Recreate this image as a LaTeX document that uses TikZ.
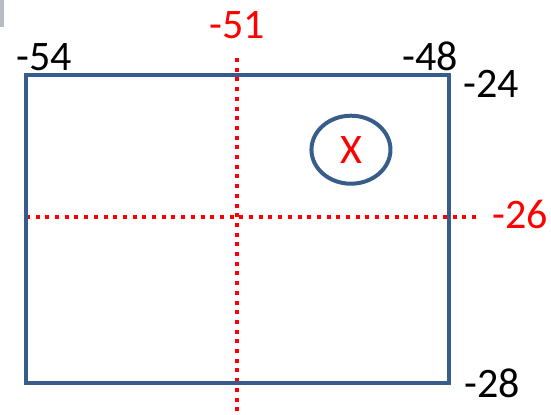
\documentclass[tikz,border=0pt]{standalone}
\usepackage{fontspec}
\setmainfont{Carlito}
\usetikzlibrary{shapes.geometric}
\definecolor{boxblue}{HTML}{385D8A}
\definecolor{tabgray}{RGB}{185,188,194}

\begin{document}
\begin{tikzpicture}[x=70.5bp,y=77bp,
    lbl/.style={font=\fontsize{42bp}{50bp}\selectfont, anchor=base, inner sep=0pt},
    redlbl/.style={lbl, text=red},
    guide/.style={red, line width=4bp, dash pattern=on 4bp off 5.7bp}]
    % Fix the picture size
    \useasboundingbox (-54.3688,-28.4156) rectangle (-46.5532,-23.026);
    \fill[tabgray] (-54.3688,-23.026) rectangle (-54.312,-23.37);

    % Guide lines
    \coordinate (vtop) at (-51,-23.78);
    \coordinate (vbot) at (-51,-28.4156);
    \coordinate (hleft) at (-54,-25.84);
    \coordinate (hright) at (-47.56,-25.84);
    \draw[guide] (vtop) -- (vbot);
    \draw[guide] (hleft) -- (hright);

    % Draw the box
    \draw[boxblue, line width=4bp] (-54,-28) rectangle (-48,-24);

    % Position marker
    \node[draw=boxblue, line width=4bp, ellipse, minimum width=79bp, minimum height=68bp,
          inner sep=0pt, text=red, font=\fontsize{42bp}{50bp}\selectfont] (pos) at (-49.39,-24.97) {X};

    % Corner values
    \node[lbl] (xmin) at (-53.738,-23.935) {-54};
    \node[redlbl] (xmid) at (-51.007,-23.532) {-51};
    \node[lbl] (xmax) at (-48.27,-23.935) {-48};
    \node[lbl] (ymax) at (-47.397,-24.286) {-24};
    \node[redlbl] (ymid) at (-46.993,-25.987) {-26};
    \node[lbl] (ymin) at (-47.383,-28.182) {-28};
\end{tikzpicture}
\end{document}
